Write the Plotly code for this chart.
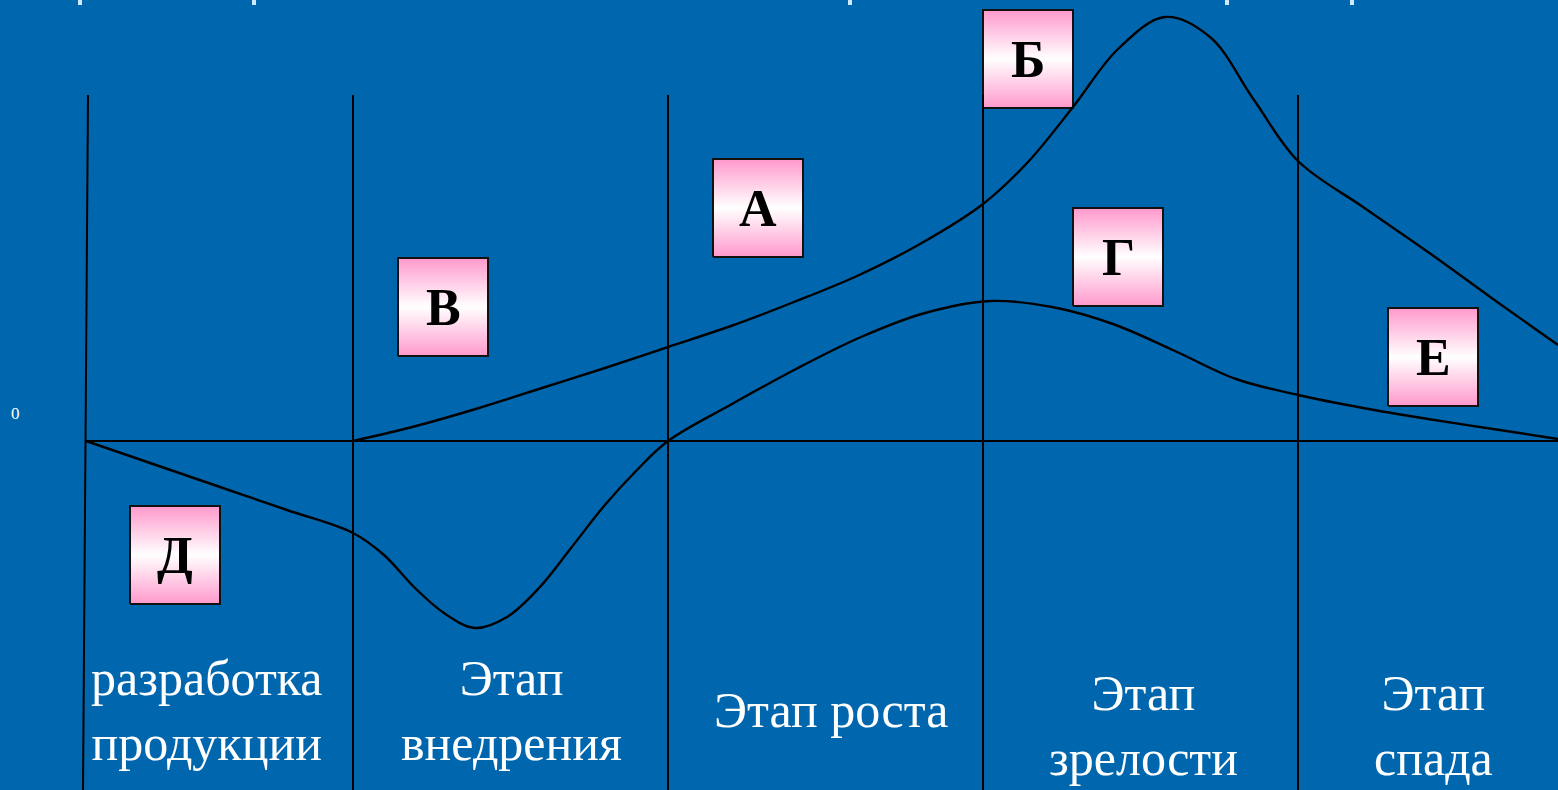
import plotly.graph_objects as go

# Sales curve (A / Б / Е): x position, value above the zero line
sales_x = [353, 416, 479, 542, 605, 668, 731, 794, 857, 920, 983, 1028, 1073, 1118, 1165,
           1210, 1254, 1298, 1363, 1428, 1493, 1558]
sales_y = [0, 15, 33, 53, 73, 94, 115, 139, 165, 197, 237, 279, 334, 392, 424,
           404, 341, 280, 234, 189, 142, 96]

# Profit curve (Д / В / Г)
profit_x = [86, 153, 220, 287, 353, 384, 414, 444, 475, 507, 539, 571, 604, 636, 668,
            732, 796, 861, 925, 990, 1052, 1113, 1175, 1236, 1298, 1363, 1428, 1493, 1558]
profit_y = [0, -23, -46, -69, -92, -114, -146, -172, -187, -176, -147, -107, -65, -30, 0,
            37, 72, 104, 128, 140, 134, 117, 90, 62, 46, 33, 22, 12, 2]

# Stage boundaries
stage_bounds = [86, 353, 668, 983, 1298]
stage_names = ["разработка<br>продукции", "Этап<br>внедрения", "Этап роста",
               "Этап<br>зрелости", "Этап<br>спада"]
stage_label_x = [207, 511, 831, 1143, 1433]
stage_label_y = [-269, -269, -269, -284, -284]

# Letter boxes
box_letters = ["Д", "В", "А", "Б", "Г", "Е"]
box_x = [175, 443, 758, 1028, 1118, 1433]
box_y = [-114, 134, 233, 382, 184, 84]

BG = "#0067AE"
W, H = 1558, 790
Y_TOP, Y_BOTTOM = 441, -349
SERIF = "Liberation Serif, Times New Roman, serif"

fig = go.Figure()

# letter boxes with pink-white-pink gradient
bw, bh = 45, 49
for lx, ly in zip(box_x, box_y):
    fig.add_trace(go.Scatter(
        x=[lx - bw, lx + bw, lx + bw, lx - bw, lx - bw],
        y=[ly - bh, ly - bh, ly + bh, ly + bh, ly - bh],
        mode="lines", fill="toself",
        line=dict(color="#111111", width=2),
        fillgradient=dict(type="vertical",
                          colorscale=[[0, "#FF99CC"], [0.5, "#FFFFFF"], [1, "#FF99CC"]]),
        hoverinfo="skip", showlegend=False))

# curves
fig.add_trace(go.Scatter(x=sales_x, y=sales_y, mode="lines",
                         line=dict(color="black", width=2.4, shape="spline", smoothing=1.0),
                         showlegend=False))
fig.add_trace(go.Scatter(x=profit_x, y=profit_y, mode="lines",
                         line=dict(color="black", width=2.4, shape="spline", smoothing=1.0),
                         showlegend=False))

# grid lines
fig.add_shape(type="line", x0=stage_bounds[0], x1=W, y0=0, y1=0,
              line=dict(color="black", width=2))
for i, bx in enumerate(stage_bounds):
    x_top = bx + 2 if i == 0 else bx
    x_bot = bx - 3 if i == 0 else bx
    fig.add_shape(type="line", x0=x_top, x1=x_bot, y0=Y_TOP - 95, y1=Y_BOTTOM,
                  line=dict(color="black", width=2))

# small light marks at the very top
for mx in [80, 254, 850, 1227, 1352]:
    fig.add_shape(type="rect", x0=mx - 2, x1=mx + 2, y0=Y_TOP - 5, y1=Y_TOP,
                  line=dict(width=0), fillcolor="#CFE9FF")

for lx, ly, t in zip(box_x, box_y, box_letters):
    fig.add_annotation(x=lx, y=ly, text="<b>" + t + "</b>", showarrow=False,
                       font=dict(family=SERIF, size=52, color="black"))

for lx, ly, t in zip(stage_label_x, stage_label_y, stage_names):
    fig.add_annotation(x=lx, y=ly, text=t, showarrow=False,
                       font=dict(family=SERIF, size=50, color="white"))

fig.add_annotation(x=15, y=28, text="0", showarrow=False,
                   font=dict(family=SERIF, size=17, color="white"))

fig.update_xaxes(visible=False, range=[0, W])
fig.update_yaxes(visible=False, range=[Y_BOTTOM, Y_TOP])
fig.update_layout(width=W, height=H, margin=dict(l=0, r=0, t=0, b=0),
                  paper_bgcolor=BG, plot_bgcolor=BG, showlegend=False)

fig.write_html("out.html", config={"displayModeBar": False},
               post_script="document.body.style.margin='0';document.body.style.background='" + BG + "';")
